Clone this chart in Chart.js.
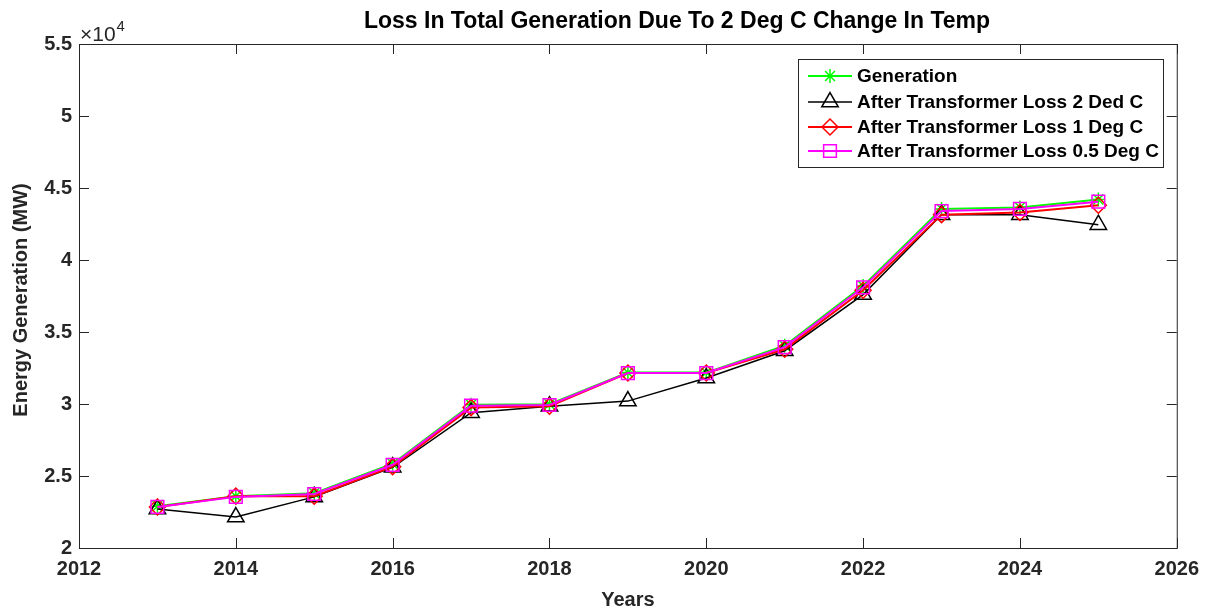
<!DOCTYPE html>
<html>
<head>
<meta charset="utf-8">
<script src="https://cdn.jsdelivr.net/npm/chart.js@4.4.1/dist/chart.umd.min.js"></script>
<style>
  body { margin: 0; background: #fff; }
  #wrap { width: 1208px; height: 610px; }
</style>
</head>
<body>
<div id="wrap"><canvas id="lossChart" width="1208" height="610"></canvas></div>
<script>
'use strict';

// data (MW)
var years = [2013, 2014, 2015, 2016, 2017, 2018, 2019, 2020, 2021, 2022, 2023, 2024, 2025];
var generation = [22900, 23600, 23800, 25850, 29950, 29980, 32180, 32180, 34050, 38200, 43550, 43650, 44200];
var loss2Deg   = [22700, 22150, 23550, 25600, 29400, 29850, 30200, 31800, 33700, 37600, 43150, 43150, 42450];
var loss1Deg   = [22850, 23600, 23600, 25650, 29750, 29850, 32150, 32150, 33800, 37900, 43150, 43300, 43800];
var loss05Deg  = [22850, 23550, 23750, 25780, 29880, 29930, 32150, 32150, 33950, 38100, 43400, 43550, 44050];

var seriesLabels = ['Generation', 'After Transformer Loss 2 Ded C', 'After Transformer Loss 1 Deg C', 'After Transformer Loss 0.5 Deg C'];
var xTicks = [2012, 2014, 2016, 2018, 2020, 2022, 2024, 2026];
var yTicks = [20000, 25000, 30000, 35000, 40000, 45000, 50000, 55000];

var FONT = '"Liberation Sans", Arial, Helvetica, sans-serif';
var AXIS_COLOR = '#262626';

function toPoints(values) {
  return years.map(function (y, i) { return {x: y, y: values[i]}; });
}

var styles = [
  {color: '#00ff00', marker: 'star', radius: 7, width: 2},
  {color: '#000000', marker: 'triangle', radius: 9.5, width: 1.5},
  {color: '#ff0000', marker: 'rectRot', radius: 8, width: 2},
  {color: '#ff00ff', marker: 'rect', radius: 9, width: 2}
];
var allValues = [generation, loss2Deg, loss1Deg, loss05Deg];

var datasets = allValues.map(function (vals, i) {
  var s = styles[i];
  return {
    label: seriesLabels[i],
    data: toPoints(vals),
    borderColor: s.color,
    backgroundColor: s.color,
    borderWidth: s.width,
    pointStyle: s.marker,
    pointRadius: s.radius,
    pointHoverRadius: s.radius,
    pointBorderColor: s.color,
    pointBackgroundColor: 'rgba(0,0,0,0)',
    pointBorderWidth: 1.5,
    tension: 0,
    fill: false,
    order: 4 - i   // MATLAB draws later series on top
  };
});

// box, inward ticks, titles, x10^4 and the legend, MATLAB style
var matlabDecor = {
  id: 'matlabDecor',
  afterDraw: function (chart) {
    var ctx = chart.ctx;
    var a = chart.chartArea;
    var xs = chart.scales.x, ys = chart.scales.y;
    ctx.save();

    // axes box
    ctx.strokeStyle = AXIS_COLOR;
    ctx.lineWidth = 1;
    ctx.strokeRect(a.left + 0.5, a.top + 0.5, a.right - a.left, a.bottom - a.top);

    // ticks pointing inwards on all four sides
    var tl = 10;
    ctx.beginPath();
    xs.ticks.forEach(function (t) {
      var px = Math.round(xs.getPixelForValue(t.value)) + 0.5;
      ctx.moveTo(px, a.bottom); ctx.lineTo(px, a.bottom - tl);
      ctx.moveTo(px, a.top); ctx.lineTo(px, a.top + tl);
    });
    ys.ticks.forEach(function (t) {
      var py = Math.round(ys.getPixelForValue(t.value)) + 0.5;
      ctx.moveTo(a.left, py); ctx.lineTo(a.left + tl, py);
      ctx.moveTo(a.right, py); ctx.lineTo(a.right - tl, py);
    });
    ctx.stroke();

    // title
    ctx.fillStyle = '#000';
    ctx.font = 'bold 23px ' + FONT;
    ctx.textAlign = 'center';
    ctx.textBaseline = 'middle';
    ctx.fillText('Loss In Total Generation Due To 2 Deg C Change In Temp', 677, 22);

    // axis labels
    ctx.fillStyle = AXIS_COLOR;
    ctx.font = 'bold 20px ' + FONT;
    ctx.fillText('Years', (a.left + a.right) / 2, 600);
    ctx.save();
    ctx.translate(21, 300);
    ctx.rotate(-Math.PI / 2);
    ctx.fillText('Energy Generation (MW)', 0, 0);
    ctx.restore();

    // exponent label
    ctx.textAlign = 'left';
    ctx.textBaseline = 'alphabetic';
    ctx.font = '21px ' + FONT;
    ctx.fillText('\u00d710', a.left + 1, 41);
    var w = ctx.measureText('\u00d710').width;
    ctx.font = '15px ' + FONT;
    ctx.fillText('4', a.left + 2 + w, 31);

    // legend box
    var lx = 798, ly = 59, lw = 365, lh = 108;
    ctx.fillStyle = '#fff';
    ctx.fillRect(lx, ly, lw, lh);
    ctx.strokeStyle = AXIS_COLOR;
    ctx.lineWidth = 1;
    ctx.strokeRect(lx + 0.5, ly + 0.5, lw, lh);
    var rows = [76, 102, 127, 151];
    ctx.font = 'bold 19px ' + FONT;
    ctx.textBaseline = 'middle';
    chart.data.datasets.forEach(function (ds, i) {
      var y = rows[i];
      ctx.strokeStyle = ds.borderColor;
      ctx.lineWidth = ds.borderWidth;
      ctx.beginPath();
      ctx.moveTo(808, y); ctx.lineTo(852, y);
      ctx.stroke();
      ctx.fillStyle = 'rgba(0,0,0,0)';
      ctx.lineWidth = 1.5;
      Chart.helpers.drawPoint(ctx, {pointStyle: ds.pointStyle, radius: ds.pointRadius, rotation: 0, borderWidth: 1.5}, 830, y);
      ctx.fillStyle = '#000';
      ctx.fillText(ds.label, 857, y + 1);
    });

    ctx.restore();
  }
};

var context = document.getElementById('lossChart').getContext('2d');
var myChart = new Chart(context, {
  type: 'line',
  data: {datasets: datasets},
  options: {
    responsive: false,
    animation: false,
    events: [],
    layout: {padding: {left: 0, right: 31, top: 44, bottom: 0}},
    plugins: {
      legend: {display: false},
      title: {display: false},
      tooltip: {enabled: false}
    },
    scales: {
      x: {
        type: 'linear',
        min: 2012,
        max: 2026,
        afterBuildTicks: function (scale) {
          scale.ticks = xTicks.map(function (v) { return {value: v}; });
        },
        afterFit: function (scale) { scale.height = 62; },
        grid: {display: false, drawTicks: false},
        border: {display: false},
        ticks: {
          color: AXIS_COLOR,
          font: {family: FONT, size: 20, weight: 'bold'},
          padding: 9,
          maxRotation: 0,
          callback: function (v) { return String(v); }
        }
      },
      y: {
        type: 'linear',
        min: 20000,
        max: 55000,
        afterBuildTicks: function (scale) {
          scale.ticks = yTicks.map(function (v) { return {value: v}; });
        },
        afterFit: function (scale) { scale.width = 79; },
        grid: {display: false, drawTicks: false},
        border: {display: false},
        ticks: {
          color: AXIS_COLOR,
          font: {family: FONT, size: 20, weight: 'bold'},
          padding: 7,
          callback: function (v) { return String(v / 10000); }
        }
      }
    }
  },
  plugins: [matlabDecor]
});
</script>
</body>
</html>
